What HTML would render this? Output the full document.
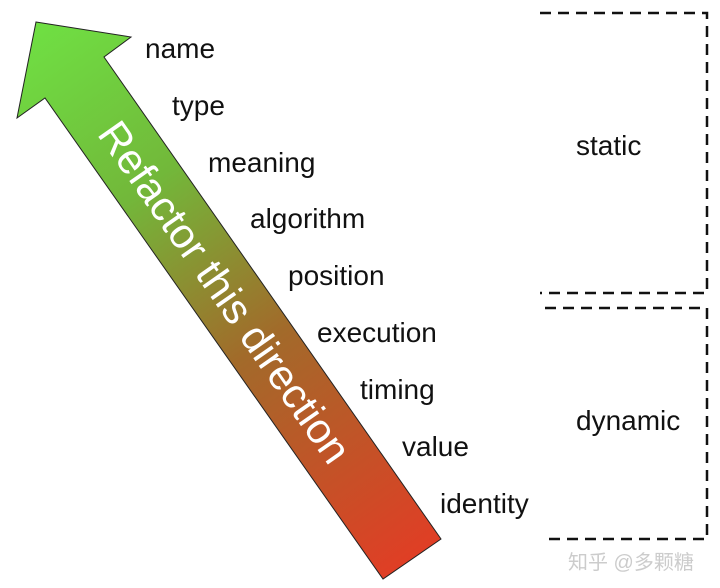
<!DOCTYPE html>
<html><head><meta charset="utf-8"><style>
body{margin:0;width:720px;height:588px;background:#fff;position:relative;overflow:hidden;font-family:"Liberation Sans Narrow","Liberation Sans",sans-serif}
.l{position:absolute;font-size:28px;color:#111;line-height:1;transform:translateY(-50%)}
</style></head><body>
<svg width="720" height="588" style="position:absolute;left:0;top:0">
<defs><linearGradient id="g" x1="36" y1="22" x2="412" y2="560" gradientUnits="userSpaceOnUse">
<stop offset="0" stop-color="#6fe043"/><stop offset="0.3" stop-color="#72b83a"/><stop offset="0.6" stop-color="#a26a2a"/><stop offset="1" stop-color="#e03e25"/></linearGradient></defs>
<polygon points="36,22 131,37 104,57 441,539 383,579 45,98 17,118" fill="url(#g)" stroke="#222" stroke-width="1"/>
<text x="0" y="0" transform="translate(222,294) rotate(55)" text-anchor="middle" dominant-baseline="middle" fill="#fff" font-family="Liberation Sans Narrow, Liberation Sans, sans-serif" font-size="42">Refactor this direction</text>
<path d="M540,13 H707 V293 H540" fill="none" stroke="#111" stroke-width="2.5" stroke-dasharray="11,7"/>
<path d="M545,308 H707 V539 H545" fill="none" stroke="#111" stroke-width="2.5" stroke-dasharray="11,7"/>
</svg>
<div class="l" style="left:145px;top:49px">name</div>
<div class="l" style="left:172px;top:106px">type</div>
<div class="l" style="left:208px;top:163px">meaning</div>
<div class="l" style="left:250px;top:219px">algorithm</div>
<div class="l" style="left:288px;top:276px">position</div>
<div class="l" style="left:317px;top:333px">execution</div>
<div class="l" style="left:360px;top:390px">timing</div>
<div class="l" style="left:402px;top:447px">value</div>
<div class="l" style="left:440px;top:504px">identity</div>
<div class="l" style="left:576px;top:146px">static</div>
<div class="l" style="left:576px;top:421px">dynamic</div>
<div style="position:absolute;left:568px;top:546px;font-size:20px;color:#ccc;font-family:'Liberation Sans','Noto Sans CJK SC',sans-serif">知乎 @多颗糖</div>
</body></html>
